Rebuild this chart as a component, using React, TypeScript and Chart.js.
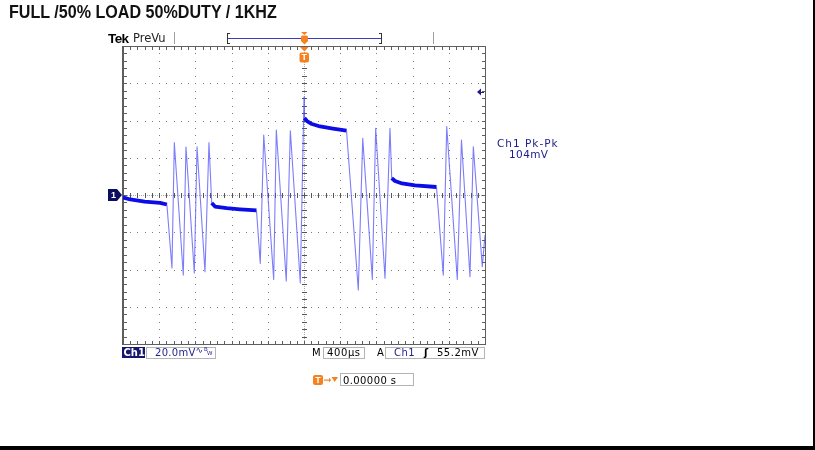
import React, { useEffect, useRef } from "react";
import { Chart, registerables } from "chart.js";

Chart.register(...registerables);

// ---- data ----
const titleText = "FULL /50% LOAD 50%DUTY / 1KHZ";
const timePerDivUs = 400;
const mvPerDiv = 20;
const divisionsX = 10;
const divisionsY = 8;
const triggerTimeUs = 0;
const triggerLevelMv = 55.2;

// Ch1 trace: time (µs) relative to trigger
const timeUs = [
  -2000, -1920, -1760, -1590, -1515,
  -1459, -1433, -1334, -1304, -1212, -1182, -1094, -1050,
  -1020, -983, -854, -707, -525,
  -483, -445, -335, -306, -196, -151, -41, 0,
  5, 33, 88, 177, 320, 470,
  600, 649, 755, 792, 895, 950,
  969, 1006, 1083, 1227, 1464,
  1539, 1577, 1694, 1740, 1834, 1871, 1970, 2000,
];
// Ch1 trace: voltage (mV)
const ch1Mv = [
  -1.3, -2.4, -3.5, -4.2, -5.1,
  -39.2, 28.1, -43.0, 25.8, -41.9, 25.9, -41.2, 28.1,
  -4.3, -6.2, -7.1, -7.7, -8.3,
  -36.7, 32.2, -45.3, 34.9, -46.2, 34.5, -47.2, 52.6,
  41.3, 39.7, 38.1, 36.8, 35.7, 34.6,
  -51.0, 30.4, -45.3, 35.8, -44.7, 35.8,
  9.1, 7.5, 6.2, 5.2, 4.3,
  -43.0, 36.7, -45.3, 29.5, -43.9, 25.9, -38.5, -21.5,
];

const measureLabel = "Ch1 Pk-Pk";
const measureValue = "104mV";
const chScaleText = "20.0mV";
const timebaseText = "400µs";
const trigLevelText = "55.2mV";
const trigPosText = "0.00000 s";

const NAVY = "#1c1c8a";
const FLAT = "#0c0ce6";
const RING = "rgba(70,70,250,0.7)";
const ORANGE = "#f5821f";

const xMin = -(timePerDivUs * divisionsX) / 2;
const xMax = (timePerDivUs * divisionsX) / 2;
const yMin = -(mvPerDiv * divisionsY) / 2;
const yMax = (mvPerDiv * divisionsY) / 2;

function steep(c: any) {
  const a = c.p0.parsed;
  const b = c.p1.parsed;
  return Math.abs(b.y - a.y) > 0.25 * Math.abs(b.x - a.x);
}

const scopePlugin = {
  id: "scopeChrome",
  beforeDatasetsDraw(chart: any) {
    const { ctx, scales } = chart;
    const xs = scales.x;
    const ys = scales.y;
    const px = (v: number) => Math.round(xs.getPixelForValue(v));
    const py = (v: number) => Math.round(ys.getPixelForValue(v));
    const L = px(xMin);
    const R = px(xMax);
    const T = py(yMax);
    const B = py(yMin);
    const cx = px(0);
    const cy = py(0);
    ctx.save();
    // dotted division lines
    ctx.fillStyle = "#7e7e7e";
    for (let i = 1; i < divisionsX; i++) {
      if (i === divisionsX / 2) continue;
      const X = px(xMin + i * timePerDivUs);
      for (let j = 1; j < divisionsY * 5; j++) ctx.fillRect(X, py(yMin + (j * mvPerDiv) / 5), 1, 1);
    }
    for (let j = 1; j < divisionsY; j++) {
      if (j === divisionsY / 2) continue;
      const Y = py(yMin + j * mvPerDiv);
      for (let i = 1; i < divisionsX * 5; i++) ctx.fillRect(px(xMin + (i * timePerDivUs) / 5), Y, 1, 1);
    }
    // centre lines
    ctx.fillStyle = "#a8a8a8";
    for (let Y = T; Y <= B; Y += 2) ctx.fillRect(cx, Y, 1, 1);
    for (let X = L; X <= R; X += 2) ctx.fillRect(X, cy, 1, 1);
    ctx.fillStyle = "#555";
    for (let j = 1; j < divisionsY * 5; j++) ctx.fillRect(cx - 2, py(yMin + (j * mvPerDiv) / 5), 5, 1);
    for (let i = 1; i < divisionsX * 5; i++) ctx.fillRect(px(xMin + (i * timePerDivUs) / 5), cy - 2, 1, 5);
    // frame
    ctx.fillStyle = "#5e5e5e";
    ctx.fillRect(L - 1, T, 2, B - T + 1);
    ctx.fillRect(R, T, 1, B - T + 1);
    ctx.fillRect(L, T, R - L, 1);
    ctx.fillRect(L, B, R - L, 1);
    for (let j = 1; j < divisionsY * 5; j++) {
      const Y = py(yMin + (j * mvPerDiv) / 5);
      ctx.fillRect(L + 1, Y, 3, 1);
      ctx.fillRect(R - 3, Y, 3, 1);
    }
    for (let i = 1; i < divisionsX * 5; i++) {
      const X = px(xMin + (i * timePerDivUs) / 5);
      ctx.fillRect(X, T + 1, 1, 3);
      ctx.fillRect(X, B - 3, 1, 3);
    }
    ctx.restore();
  },
  afterDatasetsDraw(chart: any) {
    const { ctx, scales } = chart;
    const xs = scales.x;
    const ys = scales.y;
    const cy = Math.round(ys.getPixelForValue(0));
    const tx = Math.round(xs.getPixelForValue(triggerTimeUs));
    const ty = Math.round(ys.getPixelForValue(triggerLevelMv));
    const R = Math.round(xs.getPixelForValue(xMax));
    const T = Math.round(ys.getPixelForValue(yMax));
    ctx.save();
    // channel 1 ground marker
    ctx.fillStyle = "#0d0d5e";
    ctx.beginPath();
    ctx.moveTo(108, cy - 6);
    ctx.lineTo(117, cy - 6);
    ctx.lineTo(122, cy);
    ctx.lineTo(117, cy + 6);
    ctx.lineTo(108, cy + 6);
    ctx.closePath();
    ctx.fill();
    ctx.fillStyle = "#fff";
    ctx.font = "bold 9px 'Liberation Sans'";
    ctx.textAlign = "center";
    ctx.textBaseline = "middle";
    ctx.fillText("1", 113.5, cy + 0.5);
    // trigger level arrow
    ctx.fillStyle = NAVY;
    ctx.beginPath();
    ctx.moveTo(R - 8, ty);
    ctx.lineTo(R - 4, ty - 3.5);
    ctx.lineTo(R - 4, ty + 3.5);
    ctx.closePath();
    ctx.fill();
    ctx.fillRect(R - 4, ty, 3, 1);
    // trigger position marker under frame top
    ctx.fillStyle = ORANGE;
    ctx.beginPath();
    ctx.moveTo(tx - 4, T + 1);
    ctx.lineTo(tx + 4.5, T + 1);
    ctx.lineTo(tx + 0.5, T + 5.5);
    ctx.closePath();
    ctx.fill();
    ctx.beginPath();
    ctx.roundRect(tx - 4.5, T + 6.5, 9.5, 10, 2);
    ctx.fill();
    ctx.fillStyle = "#fff";
    ctx.font = "bold 9px 'Liberation Sans'";
    ctx.fillText("T", tx + 0.3, T + 12);
    // record bar at top
    ctx.fillStyle = "#3a3ac4";
    ctx.fillRect(227, 38, 154, 1);
    ctx.fillStyle = "#333";
    ctx.fillRect(227, 33, 1, 11);
    ctx.fillRect(227, 33, 3, 1);
    ctx.fillRect(227, 43, 3, 1);
    ctx.fillRect(381, 33, 1, 11);
    ctx.fillRect(379, 33, 3, 1);
    ctx.fillRect(379, 43, 3, 1);
    ctx.fillStyle = ORANGE;
    ctx.beginPath();
    ctx.moveTo(tx - 3, 32);
    ctx.lineTo(tx + 3.5, 32);
    ctx.lineTo(tx + 0.5, 35);
    ctx.closePath();
    ctx.fill();
    ctx.beginPath();
    ctx.roundRect(tx - 3, 35.5, 7, 6.5, 1.5);
    ctx.fill();
    ctx.beginPath();
    ctx.moveTo(tx - 2, 42);
    ctx.lineTo(tx + 3, 42);
    ctx.lineTo(tx + 0.5, 44.5);
    ctx.closePath();
    ctx.fill();
    // header separators
    ctx.fillStyle = "#a0a0a0";
    ctx.fillRect(174, 32, 1, 12);
    ctx.fillRect(433, 32, 1, 12);
    // trigger position icon in status line
    ctx.fillStyle = ORANGE;
    ctx.beginPath();
    ctx.roundRect(313, 375, 10, 10, 2);
    ctx.fill();
    ctx.fillRect(324, 379.5, 5, 1.2);
    ctx.beginPath();
    ctx.moveTo(329, 377.5);
    ctx.lineTo(331, 380);
    ctx.lineTo(329, 382.5);
    ctx.closePath();
    ctx.fill();
    ctx.beginPath();
    ctx.moveTo(331.5, 377);
    ctx.lineTo(338, 377);
    ctx.lineTo(334.75, 382);
    ctx.closePath();
    ctx.fill();
    ctx.fillStyle = "#fff";
    ctx.fillText("T", 318, 380.5);
    // page borders
    ctx.fillStyle = "#000";
    ctx.fillRect(813, 0, 2, 446);
    ctx.fillRect(0, 446, 815, 4);
    ctx.restore();
  },
};

const baseTop = (base: number, size: number) => base - 0.846 * size;

function Txt(props: {
  x: number;
  base: number;
  size: number;
  family?: string;
  weight?: string | number;
  color?: string;
  ls?: number;
  sx?: number;
  children: React.ReactNode;
}) {
  const { x, base, size, family, weight, color, ls, sx, children } = props;
  return (
    <div
      style={{
        position: "absolute",
        left: x,
        top: baseTop(base, size),
        fontSize: size,
        lineHeight: `${size}px`,
        fontFamily: family || "'DejaVu Sans', sans-serif",
        fontWeight: weight || "normal",
        color: color || "#000",
        whiteSpace: "nowrap",
        letterSpacing: ls || 0,
        transform: sx ? `scaleX(${sx})` : undefined,
        transformOrigin: "0 0",
      }}
    >
      {children}
    </div>
  );
}

function Box(props: { x: number; y: number; w: number; h: number; bg?: string }) {
  return (
    <div
      style={{
        position: "absolute",
        left: props.x,
        top: props.y,
        width: props.w,
        height: props.h,
        boxSizing: "border-box",
        border: props.bg ? "none" : "1px solid #b4b4b4",
        background: props.bg || "transparent",
      }}
    />
  );
}

export default function App() {
  const canvasRef = useRef<HTMLCanvasElement | null>(null);

  useEffect(() => {
    if (!canvasRef.current) return;
    const points = timeUs.map((t, i) => ({ x: t, y: ch1Mv[i] }));
    const chart = new Chart(canvasRef.current, {
      type: "line",
      data: {
        datasets: [
          {
            label: "Ch1",
            data: points,
            borderColor: FLAT,
            borderWidth: 3.8,
            pointRadius: 0,
            tension: 0,
            borderJoinStyle: "round",
            segment: {
              borderWidth: (c: any) => (steep(c) ? 1.1 : 3.8),
              borderColor: (c: any) => (steep(c) ? RING : FLAT),
            },
          } as any,
        ],
      },
      options: {
        responsive: false,
        animation: false,
        devicePixelRatio: 1,
        layout: { padding: { left: 123, right: 330, top: 46, bottom: 106 } },
        scales: {
          x: { type: "linear", min: xMin, max: xMax, display: false },
          y: { type: "linear", min: yMin, max: yMax, display: false },
        },
        plugins: {
          legend: { display: false },
          tooltip: { enabled: false },
          title: { display: false },
        },
      },
      plugins: [scopePlugin as any],
    });
    return () => chart.destroy();
  }, []);

  return (
    <div
      style={{
        position: "fixed",
        left: 0,
        top: 0,
        width: 815,
        height: 450,
        background: "#fff",
        overflow: "hidden",
      }}
    >
      <canvas
        ref={canvasRef}
        width={815}
        height={450}
        style={{ position: "absolute", left: 0, top: 0, width: 815, height: 450 }}
      />
      <Txt x={9} base={19} size={17.5} family="'Liberation Sans', Arial, sans-serif" weight="bold" color="#111" sx={0.92}>
        {titleText}
      </Txt>
      <Txt x={108} base={43} size={13.5} family="'Liberation Sans', Arial, sans-serif" weight="bold" ls={-0.6}>
        Tek
      </Txt>
      <Txt x={133} base={43} size={11.5} color="#222">
        PreVu
      </Txt>
      <Txt x={497} base={147} size={10.5} color={NAVY} ls={1}>
        {measureLabel}
      </Txt>
      <Txt x={509} base={157.5} size={10.5} color={NAVY} ls={0.4}>
        {measureValue}
      </Txt>

      <Box x={122} y={347} w={23} h={11} bg="#16166e" />
      <Txt x={123.5} base={356} size={10} color="#fff" weight="bold">
        Ch1
      </Txt>
      <Box x={146} y={347} w={70} h={12} />
      <Txt x={155} base={356} size={10} color={NAVY} ls={0.3}>
        {chScaleText}
      </Txt>
      <Txt x={195.5} base={354} size={9} color={NAVY}>
        ∿
      </Txt>
      <Txt x={204} base={352} size={5.5} color={NAVY}>
        B
      </Txt>
      <Txt x={207} base={356} size={5.5} color={NAVY}>
        W
      </Txt>
      <Txt x={312} base={356} size={10}>
        M
      </Txt>
      <Box x={323} y={347} w={42} h={12} />
      <Txt x={327} base={356} size={10} ls={0.6}>
        {timebaseText}
      </Txt>
      <Txt x={377} base={356} size={10}>
        A
      </Txt>
      <Box x={385} y={347} w={100} h={12} />
      <Txt x={394} base={356} size={10} color={NAVY} ls={0.5}>
        Ch1
      </Txt>
      <Txt x={424} base={356} size={10} weight="bold">
        ʃ
      </Txt>
      <Txt x={437} base={356} size={10} ls={0.5}>
        {trigLevelText}
      </Txt>
      <Box x={340} y={373} w={74} h={13} />
      <Txt x={343} base={384} size={10} ls={0.4}>
        {trigPosText}
      </Txt>
    </div>
  );
}
